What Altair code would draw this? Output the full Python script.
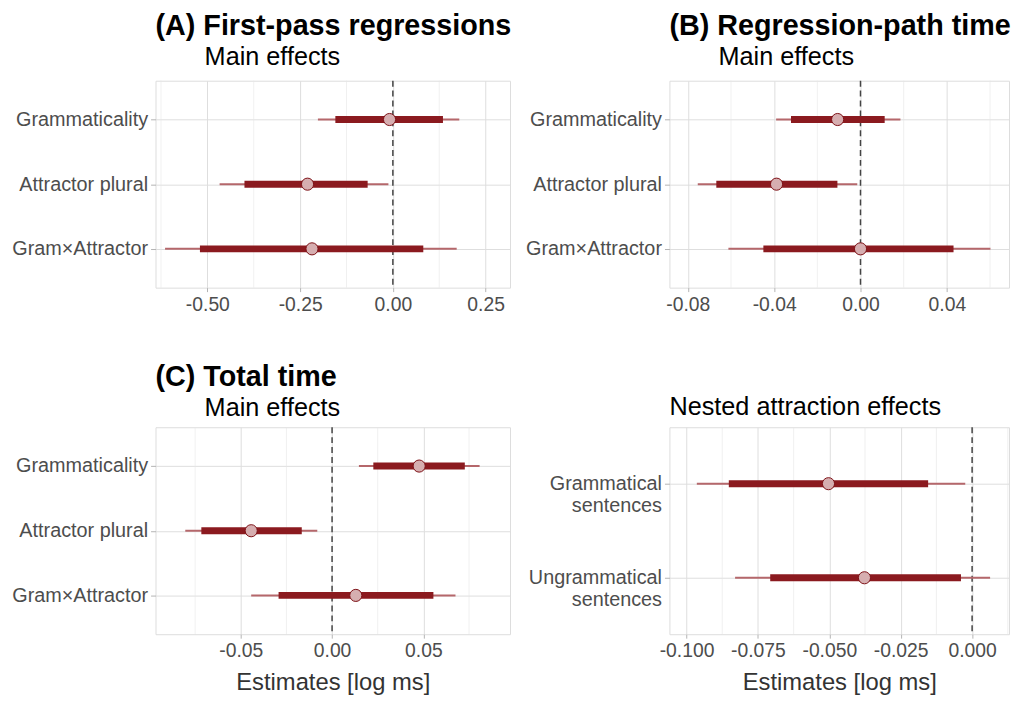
import altair as alt
import pandas as pd

FONT = "Liberation Sans"
OUTER = "#B5676B"
DARK = "#8B1A1F"
PT_FILL = "#D6AEB0"
PT_STROKE = "#7C1015"

# ---- Panel A: First-pass regressions ----
a_terms = ["Grammaticality", "Attractor plural", "Gram×Attractor"]
a_ll = [-0.202, -0.467, -0.614]
a_l = [-0.155, -0.400, -0.520]
a_m = [-0.009, -0.230, -0.218]
a_h = [0.135, -0.068, 0.082]
a_hh = [0.179, -0.012, 0.172]
a_major = [-0.5, -0.25, 0.0, 0.25]
a_minor = [-0.625, -0.375, -0.125, 0.125]
a_domain = [-0.6397, 0.3157]

# ---- Panel B: Regression-path time ----
b_terms = ["Grammaticality", "Attractor plural", "Gram×Attractor"]
b_ll = [-0.0391, -0.0754, -0.0612]
b_l = [-0.0322, -0.0668, -0.0450]
b_m = [-0.0106, -0.0389, 0.0000]
b_h = [0.0112, -0.0107, 0.0431]
b_hh = [0.0185, -0.0015, 0.0602]
b_major = [-0.08, -0.04, 0.0, 0.04]
b_minor = [-0.06, -0.02, 0.02, 0.06]
b_domain = [-0.08853, 0.06881]

# ---- Panel C: Total time ----
c_terms = ["Grammaticality", "Attractor plural", "Gram×Attractor"]
c_ll = [0.0147, -0.0804, -0.0443]
c_l = [0.0226, -0.0716, -0.0293]
c_m = [0.0477, -0.0443, 0.0130]
c_h = [0.0727, -0.0166, 0.0555]
c_hh = [0.0808, -0.0081, 0.0676]
c_major = [-0.05, 0.0, 0.05]
c_minor = [-0.075, -0.025, 0.025, 0.075]
c_domain = [-0.09669, 0.09745]

# ---- Panel D: Nested attraction effects ----
d_terms = ["Grammatical sentences", "Ungrammatical sentences"]
d_ll = [-0.0964, -0.0830]
d_l = [-0.0852, -0.0707]
d_m = [-0.0503, -0.0377]
d_h = [-0.0154, -0.0039]
d_hh = [-0.0024, 0.0063]
d_major = [-0.1, -0.075, -0.05, -0.025, 0.0]
d_minor = [-0.0875, -0.0625, -0.0375, -0.0125, 0.0125]
d_domain = [-0.1060, 0.01293]

XTITLE = "Estimates [log ms]"
INDENT = "\u200b" + "\u00a0" * 7


def panel(terms, ll, l, m, h, hh, domain, major, minor, fmt, title, width,
          height, yextent, xtitle=False, multiline=False):
    df = pd.DataFrame({"term": terms, "ll": ll, "l": l, "m": m, "h": h, "hh": hh})
    minor_df = pd.DataFrame({"v": minor})
    zero_df = pd.DataFrame({"v": [0.0]})

    axis_kw = dict(
        values=major,
        labelExpr=f"replace(format(datum.value, '{fmt}'), '\u2212', '-')",
        grid=True, gridColor="#dedede", gridWidth=1,
        domain=False, ticks=True, tickColor="#b3b3b3", tickSize=4,
        labelFontSize=19.5, labelColor="#4d4d4d", labelPadding=4,
        labelFont=FONT, labelFlush=False,
        titleFontSize=24, titleColor="#333333", titleFontWeight="normal",
        titleFont=FONT, titlePadding=10,
    )
    if xtitle:
        axis_kw["title"] = XTITLE
    else:
        axis_kw["title"] = None
    xaxis = alt.Axis(**axis_kw)
    xscale = alt.Scale(domain=domain, nice=False, zero=False)

    def X(field):
        return alt.X(f"{field}:Q", scale=xscale, axis=xaxis)

    yaxis_kw = dict(
        title=None, grid=True, gridColor="#dedede", gridWidth=1,
        domain=False, ticks=True, tickColor="#b3b3b3", tickSize=5,
        labelPadding=3, labelFontSize=20, labelColor="#4d4d4d",
        labelFont=FONT, minExtent=yextent, maxExtent=yextent, labelLimit=400,
    )
    if multiline:
        yaxis_kw["labelExpr"] = "split(datum.label, ' ')"
        yaxis_kw["labelLineHeight"] = 22
    Y = alt.Y("term:N", sort=terms,
              scale=alt.Scale(type="point", padding=0.6),
              axis=alt.Axis(**yaxis_kw))

    minor_layer = alt.Chart(minor_df).mark_rule(
        color="#e6e6e6", strokeWidth=0.6).encode(x=X("v"))
    zero_layer = alt.Chart(zero_df).mark_rule(
        color="#444444", strokeWidth=1.5, strokeDash=[6, 4]).encode(x=X("v"))
    outer = alt.Chart(df).mark_rule(color=OUTER, strokeWidth=2).encode(
        x=X("ll"), x2="hh", y=Y)
    inner = alt.Chart(df).mark_rule(color=DARK, strokeWidth=7).encode(
        x=X("l"), x2="h", y=Y)
    point = alt.Chart(df).mark_circle(
        size=150, fill=PT_FILL, stroke=PT_STROKE, strokeWidth=1,
        opacity=1).encode(x=X("m"), y=Y)

    return alt.layer(minor_layer, zero_layer, outer, inner, point).properties(
        width=width, height=height, title=title)


def main_title(text, offset):
    return alt.TitleParams(
        text=text, subtitle=INDENT + "Main effects", anchor="start",
        frame="group", font=FONT, fontSize=29, fontWeight="bold",
        color="black", subtitleFont=FONT, subtitleFontSize=25.5,
        subtitleColor="black", subtitlePadding=4, offset=offset)


d_title = alt.TitleParams(
    text="Nested attraction effects", anchor="start", frame="group",
    font=FONT, fontSize=25.5, fontWeight="normal", color="black", offset=6)

W1, W2, H = 358, 343, 209

A = panel(a_terms, a_ll, a_l, a_m, a_h, a_hh, a_domain, a_major, a_minor,
          ".2f", main_title("(A) First-pass regressions", 10), W1, H, 147)
B = panel(b_terms, b_ll, b_l, b_m, b_h, b_hh, b_domain, b_major, b_minor,
          ".2f", main_title("(B) Regression-path time", 10), W2, H, 150)
C = panel(c_terms, c_ll, c_l, c_m, c_h, c_hh, c_domain, c_major, c_minor,
          ".2f", main_title("(C) Total time", 5), W1, H, 147, xtitle=True)
D = panel(d_terms, d_ll, d_l, d_m, d_h, d_hh, d_domain, d_major, d_minor,
          ".3f", d_title, W2, H, 150, xtitle=True, multiline=True)

chart = alt.concat(
    A, B, C, D, columns=2, bounds="flush",
    spacing={"row": 141, "column": 161}
).properties(
    padding={"left": 1, "top": 0, "right": 0, "bottom": 0}
).configure_view(
    stroke="#b3b3b3", strokeWidth=1
).configure(font=FONT)

chart.save("out.html", embed_options={"renderer": "svg", "actions": False})
